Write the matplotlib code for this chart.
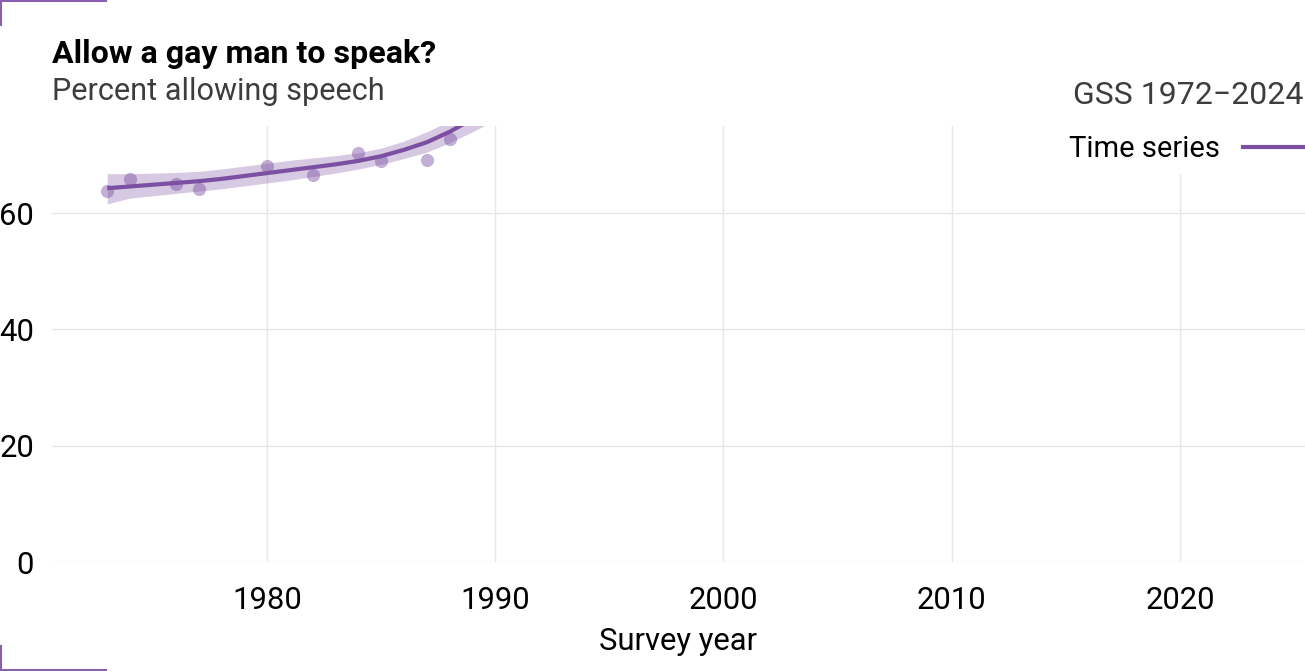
import matplotlib
matplotlib.use("Agg")
import matplotlib.pyplot as plt
from matplotlib.lines import Line2D

plt.rcParams['font.family'] = ['Roboto', 'DejaVu Sans']

# survey estimates (percent allowing speech)
years = [1973, 1974, 1976, 1977, 1980, 1982, 1984, 1985, 1987, 1988]
pct = [63.8, 65.8, 65.0, 64.1, 68.1, 66.6, 70.4, 69.0, 69.1, 72.7]

# smoothed trend with its ribbon
smooth_years = [1973, 1974, 1975, 1976, 1977, 1978, 1979, 1980, 1981, 1982,
                1983, 1984, 1985, 1986, 1987, 1988, 1989, 1990]
smooth_fit = [64.3, 64.6, 64.9, 65.2, 65.5, 65.9, 66.4, 66.9, 67.4, 67.9,
              68.4, 69.0, 69.8, 70.9, 72.2, 74.0, 76.2, 78.6]
smooth_lo = [61.6, 62.6, 63.0, 63.4, 63.8, 64.2, 64.7, 65.2, 65.7, 66.3,
             66.9, 67.6, 68.4, 69.4, 70.5, 72.1, 74.0, 76.0]
smooth_hi = [66.8, 66.8, 66.9, 67.0, 67.2, 67.6, 68.1, 68.6, 69.1, 69.5,
             69.9, 70.4, 71.2, 72.4, 74.0, 75.9, 78.3, 81.0]

xticks = [1980, 1990, 2000, 2010, 2020]
yticks = [0, 20, 40, 60]

purple = '#7b4fa2'
W, H = 1305, 671

fig = plt.figure(figsize=(W / 100, H / 100), dpi=100)
ax = fig.add_axes([52 / W, (H - 562) / H, (W - 52) / W, (562 - 126) / H])

ax.fill_between(smooth_years, smooth_lo, smooth_hi, color=purple, alpha=0.3,
                linewidth=0, zorder=2)
ax.scatter(years, pct, s=90, color=purple, alpha=0.45, linewidths=0, zorder=3)
ax.plot(smooth_years, smooth_fit, color=purple, lw=3, solid_capstyle='butt', zorder=4)

ax.set_xlim(1970.58, 2025.48)
ax.set_ylim(0, 75)
ax.set_xticks(xticks)
ax.set_yticks(yticks)
ax.tick_params(length=0, labelsize=22.3, colors='black')
ax.tick_params(axis='x', pad=17)
ax.tick_params(axis='y', pad=13)
for lab in ax.get_yticklabels():
    lab.set_verticalalignment('center_baseline')
ax.grid(True, color='#e6e6e6', lw=1)
ax.set_axisbelow(True)
for sp in ax.spines.values():
    sp.set_visible(False)
ax.set_xlabel('Survey year', fontsize=22.3, labelpad=9)

# legend (label first, line after)
pad = 11
handle = Line2D([], [], color=purple, lw=3)
leg = ax.legend([handle], ['Time series'], loc='upper right', markerfirst=False,
                bbox_to_anchor=(1 + pad / (W - 52), 1 + (pad - 9) / 436), borderaxespad=0,
                borderpad=pad / 29, handlelength=2.14, handletextpad=0.76,
                fontsize=21, frameon=True, fancybox=False)
leg.get_frame().set_facecolor('white')
leg.get_frame().set_edgecolor('none')
leg.get_frame().set_alpha(1)

# titles
fig.text(52 / W, 1 - 63 / H, 'Allow a gay man to speak?', fontsize=23.1,
         fontweight='bold', va='baseline', ha='left')
fig.text(52 / W, 1 - 100 / H, 'Percent allowing speech', fontsize=22.1,
         color='#3d3d3d', va='baseline', ha='left')
fig.text(1303 / W, 1 - 104 / H, 'GSS 1972\u22122024', fontsize=23,
         color='#3d3d3d', va='baseline', ha='right')

# corner brackets
bc = '#8a5fb0'
fig.add_artist(Line2D([0, 106 / W], [1 - 1 / H, 1 - 1 / H], color=bc, lw=1.5))
fig.add_artist(Line2D([1 / W, 1 / W], [1, 1 - 25 / H], color=bc, lw=1.5))
fig.add_artist(Line2D([0, 106 / W], [1.5 / H, 1.5 / H], color=bc, lw=1.5))
fig.add_artist(Line2D([1 / W, 1 / W], [0, 25 / H], color=bc, lw=1.5))

fig.savefig('out.png', dpi=100, facecolor='white')
